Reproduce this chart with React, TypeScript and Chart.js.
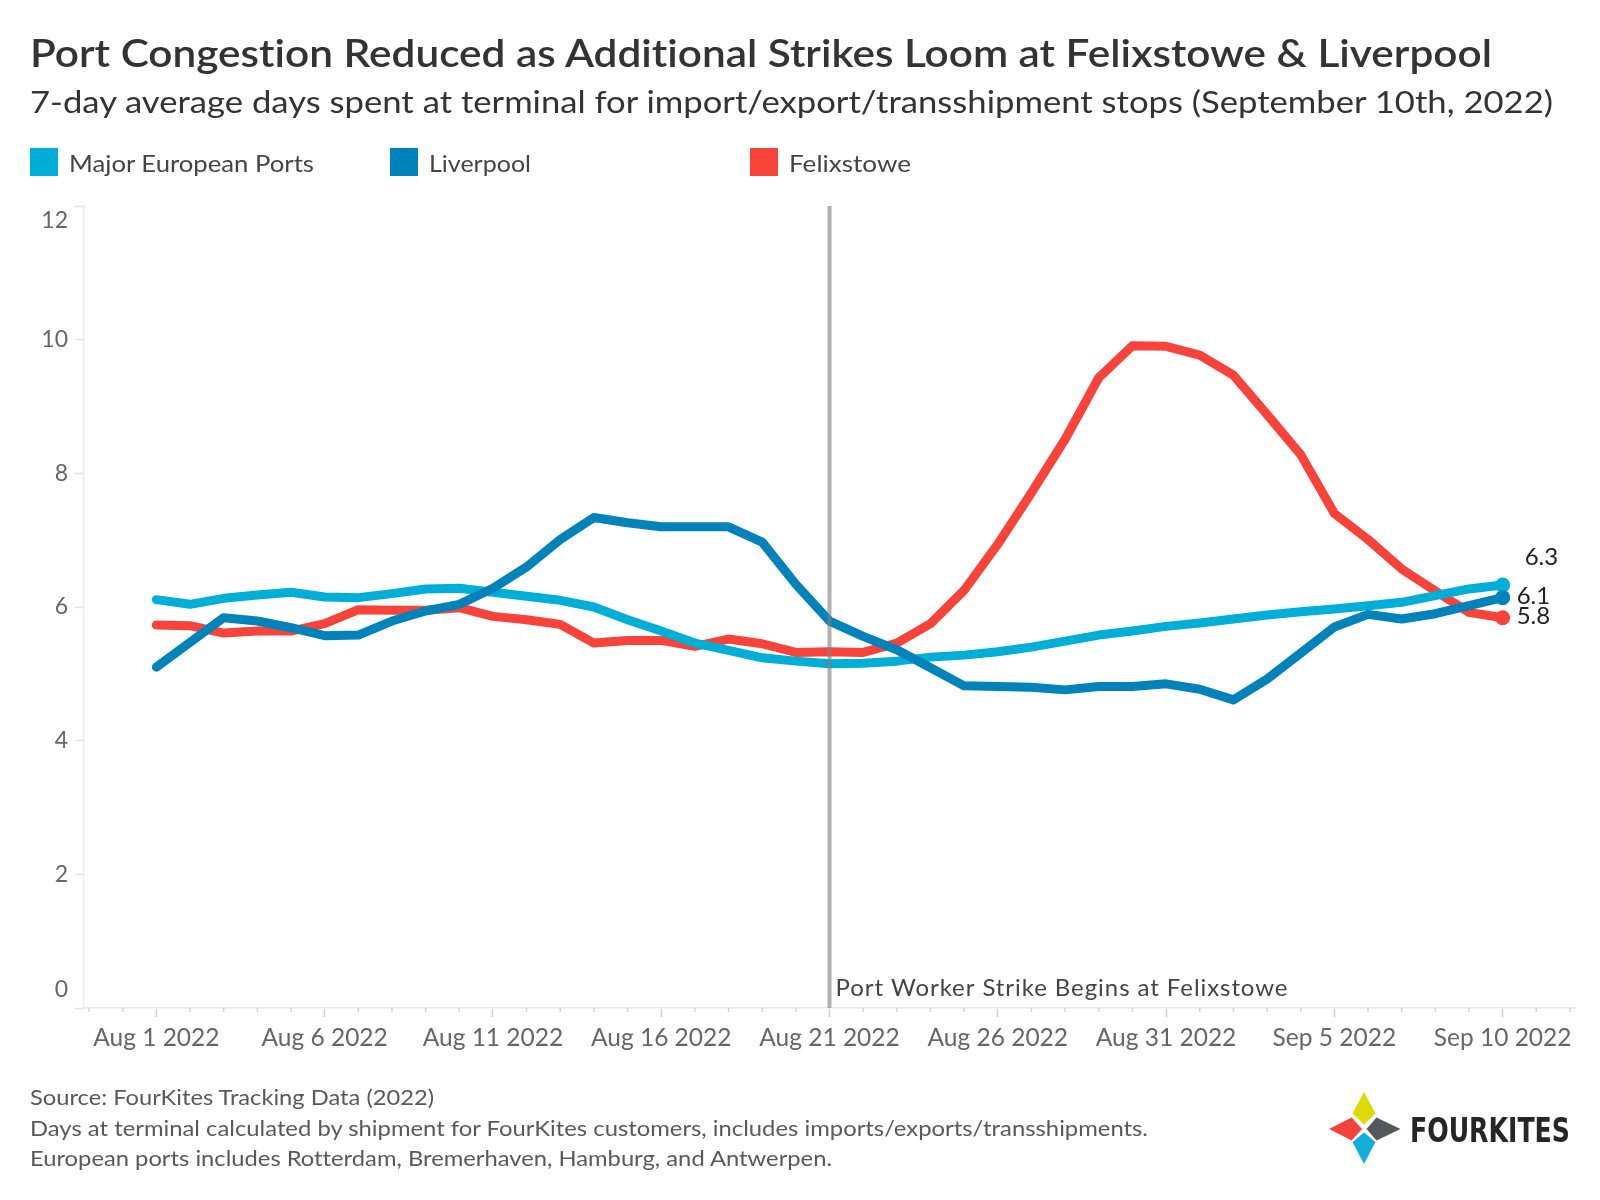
import React, { useEffect, useRef } from 'react';
import { Chart, registerables } from 'chart.js';

Chart.register(...registerables);

// ---------- data ----------
const categories = [
  '2022-08-01', '2022-08-02', '2022-08-03', '2022-08-04', '2022-08-05', '2022-08-06', '2022-08-07',
  '2022-08-08', '2022-08-09', '2022-08-10', '2022-08-11', '2022-08-12', '2022-08-13', '2022-08-14',
  '2022-08-15', '2022-08-16', '2022-08-17', '2022-08-18', '2022-08-19', '2022-08-20', '2022-08-21',
  '2022-08-22', '2022-08-23', '2022-08-24', '2022-08-25', '2022-08-26', '2022-08-27', '2022-08-28',
  '2022-08-29', '2022-08-30', '2022-08-31', '2022-09-01', '2022-09-02', '2022-09-03', '2022-09-04',
  '2022-09-05', '2022-09-06', '2022-09-07', '2022-09-08', '2022-09-09', '2022-09-10',
];

const europeanPorts = [
  6.11, 6.04, 6.13, 6.18, 6.22, 6.15, 6.14, 6.20, 6.27, 6.28,
  6.22, 6.16, 6.10, 6.00, 5.81, 5.64, 5.46, 5.35, 5.24, 5.19,
  5.15, 5.16, 5.19, 5.25, 5.28, 5.33, 5.40, 5.49, 5.58, 5.64,
  5.71, 5.76, 5.82, 5.88, 5.93, 5.97, 6.02, 6.07, 6.17, 6.27,
  6.33,
];

const liverpool = [
  5.10, 5.47, 5.84, 5.79, 5.69, 5.57, 5.58, 5.79, 5.94, 6.04,
  6.28, 6.60, 7.01, 7.34, 7.26, 7.20, 7.20, 7.20, 6.97, 6.34,
  5.79, 5.56, 5.36, 5.09, 4.82, 4.81, 4.80, 4.76, 4.81, 4.81,
  4.85, 4.77, 4.61, 4.92, 5.31, 5.70, 5.89, 5.82, 5.90, 6.02,
  6.14,
];

const felixstowe = [
  5.73, 5.72, 5.61, 5.64, 5.64, 5.75, 5.96, 5.95, 5.95, 5.99,
  5.86, 5.81, 5.74, 5.46, 5.50, 5.50, 5.41, 5.52, 5.45, 5.32,
  5.33, 5.32, 5.46, 5.75, 6.25, 6.94, 7.71, 8.51, 9.43, 9.91,
  9.90, 9.77, 9.47, 8.88, 8.28, 7.40, 7.01, 6.57, 6.24, 5.92,
  5.84,
];

const seriesNames = ['Major European Ports', 'Liverpool', 'Felixstowe'];
const seriesColors = ['#00AFD7', '#0082BA', '#F8433A'];
const seriesValues = [europeanPorts, liverpool, felixstowe];

const xTickDates = ['2022-08-01', '2022-08-06', '2022-08-11', '2022-08-16', '2022-08-21', '2022-08-26', '2022-08-31', '2022-09-05', '2022-09-10'];
const xTickLabels = ['Aug 1 2022', 'Aug 6 2022', 'Aug 11 2022', 'Aug 16 2022', 'Aug 21 2022', 'Aug 26 2022', 'Aug 31 2022', 'Sep 5 2022', 'Sep 10 2022'];
const yTicks = [0, 2, 4, 6, 8, 10, 12];

const strikeDate = '2022-08-21';
const strikeLabel = 'Port Worker Strike Begins at Felixstowe';

const titleText = 'Port Congestion Reduced as Additional Strikes Loom at Felixstowe & Liverpool';
const subtitleText = '7-day average days spent at terminal for import/export/transshipment stops (September 10th, 2022)';
const footnotes = [
  'Source: FourKites Tracking Data (2022)',
  'Days at terminal calculated by shipment for FourKites customers, includes imports/exports/transshipments.',
  'European ports includes Rotterdam, Bremerhaven, Hamburg, and Antwerpen.',
];

// ---------- styles ----------
const FONT = 'Lato, "Open Sans", "DejaVu Sans", sans-serif';
const legendLabelWidths = [245, 102, 122];
const footWidths = [404, 1118, 802];
const strikeLabelWidth = 452;
const endLabelOffsets = [
  { dx: 22, dy: -28 },
  { dx: 14, dy: -1 },
  { dx: 14, dy: -1 },
];
const drawOrder = [1, 0, 2];
const noLig: any = { fontVariantLigatures: 'none', fontFeatureSettings: '"liga" 0, "clig" 0' };

const tickIndex = xTickDates.map((d) => categories.indexOf(d));

const overlayPlugin = {
  id: 'overlay',
  afterDraw(chart: any) {
    const ctx = chart.ctx;
    const xs = chart.scales.x;
    const ys = chart.scales.y;
    const area = chart.chartArea;
    ctx.save();

    // y tick labels (edge labels pulled inside like the original)
    ctx.font = `23px ${FONT}`;
    ctx.fillStyle = '#666666';
    ctx.textAlign = 'right';
    ctx.textBaseline = 'middle';
    ys.ticks.forEach((t: any) => {
      let y = ys.getPixelForValue(t.value);
      if (t.value === ys.max) y += 15;
      if (t.value === ys.min) y -= 18;
      ctx.fillText(String(t.value), area.left - 16, y);
    });

    // minor daily ticks on x axis
    ctx.strokeStyle = '#d6d6d6';
    ctx.lineWidth = 1.5;
    for (let d = Math.ceil(xs.min); d <= Math.floor(xs.max); d++) {
      if (tickIndex.includes(d)) continue;
      const x = xs.getPixelForValue(d);
      ctx.beginPath();
      ctx.moveTo(x, area.bottom);
      ctx.lineTo(x, area.bottom + 4);
      ctx.stroke();
    }

    // strike reference line
    const sx = xs.getPixelForValue(categories.indexOf(strikeDate));
    ctx.strokeStyle = 'rgba(128,128,128,0.62)';
    ctx.lineWidth = 4;
    ctx.beginPath();
    ctx.moveTo(sx, area.top);
    ctx.lineTo(sx, area.bottom);
    ctx.stroke();
    ctx.font = `24px ${FONT}`;
    ctx.fillStyle = '#444444';
    ctx.textAlign = 'left';
    ctx.textBaseline = 'middle';
    const natural = ctx.measureText(strikeLabel).width;
    const spacing = (strikeLabelWidth - natural) / (strikeLabel.length - 1);
    if ('letterSpacing' in ctx) (ctx as any).letterSpacing = `${spacing.toFixed(2)}px`;
    ctx.fillText(strikeLabel, sx + 6, area.bottom - 20);
    if ('letterSpacing' in ctx) (ctx as any).letterSpacing = '0px';

    // end-of-line value labels
    ctx.font = `24px ${FONT}`;
    ctx.fillStyle = '#222222';
    chart.data.datasets.forEach((ds: any, i: number) => {
      const meta = chart.getDatasetMeta(i);
      const last = meta.data[meta.data.length - 1];
      const v = ds.data[ds.data.length - 1].y;
      const off = endLabelOffsets[i];
      ctx.fillText(v.toFixed(1), last.x + off.dx, last.y + off.dy);
    });
    ctx.restore();
  },
};

export default function App() {
  const canvasRef = useRef<HTMLCanvasElement | null>(null);

  useEffect(() => {
    const canvas = canvasRef.current;
    if (!canvas) return;
    const lastIdx = categories.length - 1;
    const chart = new Chart(canvas, {
      type: 'line',
      data: {
        datasets: seriesNames.map((name, i) => ({
          label: name,
          data: seriesValues[i].map((v, j) => ({ x: j, y: v })),
          borderColor: seriesColors[i],
          backgroundColor: seriesColors[i],
          pointBackgroundColor: seriesColors[i],
          borderWidth: 9,
          tension: 0,
          borderJoinStyle: 'round',
          borderCapStyle: 'round',
          pointRadius: (c: any) => (c.dataIndex === lastIdx ? 7.5 : 0),
          pointHoverRadius: 0,
          pointBorderWidth: 0,
          order: drawOrder[i],
          clip: false,
        })),
      },
      options: {
        responsive: false,
        animation: false,
        events: [],
        layout: { padding: { left: 0, top: 206, right: 25, bottom: 0 } },
        plugins: {
          legend: { display: false },
          tooltip: { enabled: false },
          title: { display: false },
        },
        scales: {
          x: {
            type: 'linear',
            min: -2.15,
            max: lastIdx + 2.15,
            afterBuildTicks: (s: any) => {
              s.ticks = tickIndex.map((v) => ({ value: v }));
            },
            afterFit: (s: any) => {
              s.height = 192;
            },
            ticks: {
              autoSkip: false,
              maxRotation: 0,
              padding: 6,
              color: '#666666',
              font: { family: FONT, size: 24.5 },
              callback: (v: any) => {
                const k = tickIndex.indexOf(Number(v));
                return k >= 0 ? xTickLabels[k] : '';
              },
            },
            grid: {
              drawOnChartArea: false,
              drawTicks: true,
              tickLength: 9,
              tickColor: '#cfcfcf',
              tickWidth: 1.5,
            },
            border: { display: true, color: '#e9e9e9', width: 1.5 },
          },
          y: {
            min: 0,
            max: 12,
            afterBuildTicks: (s: any) => {
              s.ticks = yTicks.map((v) => ({ value: v }));
            },
            afterFit: (s: any) => {
              s.width = 84;
            },
            ticks: { display: false },
            grid: {
              drawOnChartArea: false,
              drawTicks: true,
              tickLength: 9,
              tickColor: '#e6e6e6',
              tickWidth: 1.5,
            },
            border: { display: true, color: '#eeeeee', width: 1.5 },
          },
        },
      } as any,
      plugins: [overlayPlugin],
    });
    return () => chart.destroy();
  }, []);

  return (
    <div style={{ position: 'absolute', left: 0, top: 0, width: 1600, height: 1200, background: '#ffffff', overflow: 'hidden' }}>
      <canvas ref={canvasRef} width={1600} height={1200} style={{ position: 'absolute', left: 0, top: 0, width: 1600, height: 1200 }} />
      <svg width={1600} height={1200} style={{ position: 'absolute', left: 0, top: 0, pointerEvents: 'none', ...noLig }} fontFamily={FONT}>
        <text x={30} y={67} fontSize={38} fontWeight={600} fill="#333333" style={noLig} textLength={1462} lengthAdjust="spacingAndGlyphs">{titleText}</text>
        <text x={30} y={113} fontSize={31.5} fill="#333333" style={noLig} textLength={1523} lengthAdjust="spacingAndGlyphs">{subtitleText}</text>
        {seriesNames.map((name, i) => (
          <g key={name}>
            <rect x={30 + i * 360} y={148} width={28} height={28} fill={seriesColors[i]} />
            <text x={69 + i * 360} y={172} fontSize={23} fill="#444444" style={noLig} textLength={legendLabelWidths[i]} lengthAdjust="spacingAndGlyphs">{name}</text>
          </g>
        ))}
        {footnotes.map((f, i) => (
          <text key={i} x={30} y={1105 + i * 30.5} fontSize={22} fill="#595959" style={noLig} textLength={footWidths[i]} lengthAdjust="spacingAndGlyphs">{f}</text>
        ))}
        <g>
          <polygon points="1364,1092 1375.5,1113.5 1364,1124.5 1352.5,1113.5" fill="#DCDC00" />
          <polygon points="1329,1129 1351.7,1117.5 1362,1129 1351.7,1140.5" fill="#F5433A" />
          <polygon points="1366.5,1129 1376.5,1117.5 1400.5,1129 1376.5,1140.5" fill="#54585C" />
          <polygon points="1364,1132.5 1375.5,1142 1364,1164 1352.5,1142" fill="#12AEDA" />
          <text x={1410} y={1142} fontSize={34} fontWeight={700} fill="#262626" fontFamily='"Liberation Sans Narrow", "DejaVu Sans Condensed", sans-serif' textLength={160} lengthAdjust="spacingAndGlyphs">FOURKITES</text>
        </g>
      </svg>
    </div>
  );
}
